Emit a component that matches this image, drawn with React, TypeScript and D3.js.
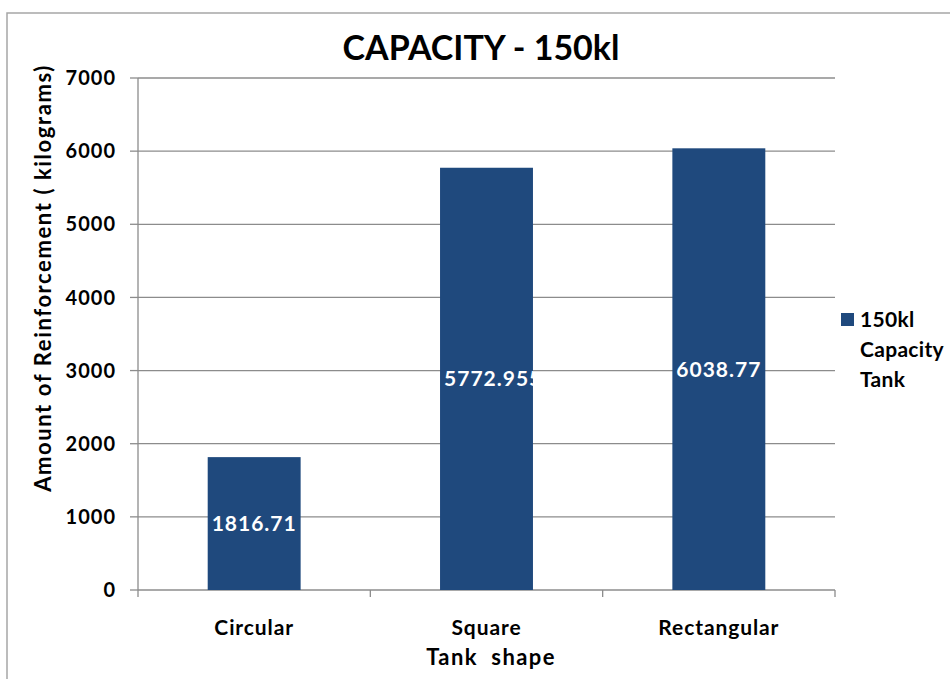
import React from "react";
import * as d3 from "d3";

const categories = ["Circular", "Square", "Rectangular"];
const values = [1816.71, 5772.955, 6038.77];
const valueLabels = ["1816.71", "5772.955", "6038.77"];
const yTicks = [0, 1000, 2000, 3000, 4000, 5000, 6000, 7000];
const title = "CAPACITY - 150kl";
const yTitle = "Amount of Reinforcement ( kilograms)";
const xTitle = "Tank  shape";
const legendLines = ["150kl", "Capacity", "Tank"];

const W = 950;
const H = 679;
const FONT = "Lato, 'Open Sans', sans-serif";
const BAR = "#1F497D";
const GRID = "#8c8c8c";

export default function App() {
  const left = 138, right = 835, top = 78, bottom = 590;
  const x = d3.scaleBand<string>().domain(categories).range([left, right]).paddingInner(0.6).paddingOuter(0.3);
  const xb = d3.scaleBand<string>().domain(categories).range([left, right]);
  const y = d3.scaleLinear().domain([0, 7000]).range([bottom, top]);

  return (
    <svg width={W} height={H} style={{ position: "absolute", left: 0, top: 0, background: "#fff" }} fontFamily={FONT}>
      <rect x={7} y={13} width={W} height={H} fill="#fff" stroke="#a6a6a6" strokeWidth={1.5} />
      <text x={481} y={60} textAnchor="middle" fontSize={34} fontWeight={700} fill="#000">{title}</text>
      {yTicks.map((t) => (
        <g key={t}>
          {t > 0 && <line x1={left} x2={right} y1={y(t)} y2={y(t)} stroke={GRID} strokeWidth={1.3} />}
          <line x1={left - 8} x2={left} y1={y(t)} y2={y(t)} stroke={GRID} strokeWidth={1.3} />
          <text x={116} y={y(t)} dy="0.36em" textAnchor="end" fontSize={20} letterSpacing={1} fontWeight={700} fill="#000">{t}</text>
        </g>
      ))}
      <line x1={left} x2={left} y1={top} y2={bottom} stroke={GRID} strokeWidth={1.3} />
      <line x1={left} x2={right} y1={bottom} y2={bottom} stroke={GRID} strokeWidth={1.3} />
      {[...categories.map((c) => xb(c)!), right].map((b, i) => (
        <line key={i} x1={b} x2={b} y1={bottom} y2={bottom + 7} stroke={GRID} strokeWidth={1.3} />
      ))}
      <defs>
        {categories.map((c, i) => (
          <clipPath id={`clip${i}`} key={c}>
            <rect x={x(c)} y={y(values[i])} width={x.bandwidth()} height={bottom - y(values[i])} />
          </clipPath>
        ))}
      </defs>
      {categories.map((c, i) => {
        const long = valueLabels[i].length > 7;
        return (
          <g key={c}>
            <rect x={x(c)} y={y(values[i])} width={x.bandwidth()} height={bottom - y(values[i])} fill={BAR} />
            <text clipPath={`url(#clip${i})`} x={long ? x(c)! + 4 : x(c)! + x.bandwidth() / 2} y={(y(values[i]) + bottom) / 2} dy="0.36em" textAnchor={long ? "start" : "middle"} fontSize={21} letterSpacing={1} fontWeight={700} fill="#fff">{valueLabels[i]}</text>
            <text x={xb(c)! + xb.bandwidth() / 2} y={635} textAnchor="middle" fontSize={21} letterSpacing={0.9} fontWeight={700} fill="#000">{c}</text>
          </g>
        );
      })}
      <text x={491} y={665} textAnchor="middle" fontSize={22} letterSpacing={1.4} fontWeight={700} fill="#000" style={{ whiteSpace: "pre" }}>{xTitle}</text>
      <text transform={`translate(51, 278) rotate(-90)`} textAnchor="middle" fontSize={22} letterSpacing={1.6} fontWeight={700} fill="#000">{yTitle}</text>
      <rect x={841} y={313} width={13} height={13} fill={BAR} />
      {legendLines.map((l, i) => (
        <text key={l} x={860} y={327 + i * 30} fontSize={21} letterSpacing={0.3} fontWeight={700} fill="#000">{l}</text>
      ))}
    </svg>
  );
}
